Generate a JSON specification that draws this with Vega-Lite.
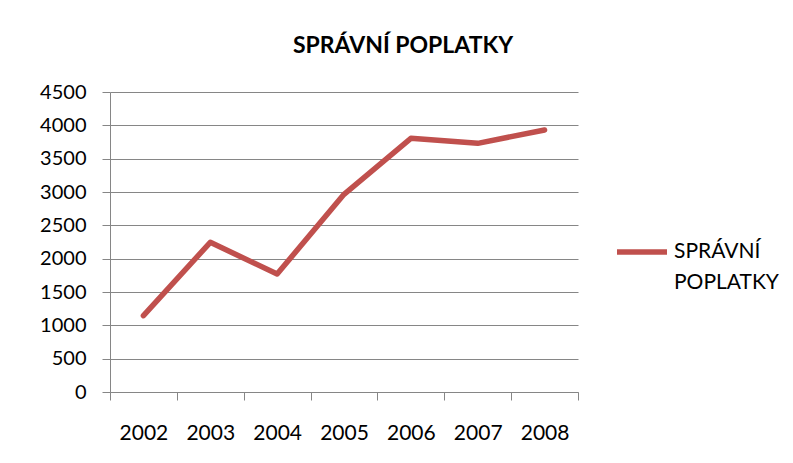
{
  "$schema": "https://vega.github.io/schema/vega-lite/v6.json",
  "autosize": {"type": "none"},
  "width": 468,
  "height": 300,
  "padding": {"left": 110, "top": 92, "right": 215, "bottom": 71},
  "background": "white",
  "title": {
    "text": "SPRÁVNÍ POPLATKY",
    "font": "Lato",
    "fontSize": 23,
    "fontWeight": "bold",
    "color": "#000000",
    "anchor": "middle",
    "dx": 59,
    "offset": 24
  },
  "data": {
    "values": [
      {"rok": "2002", "hodnota": 1145, "serie": "SPRÁVNÍ POPLATKY"},
      {"rok": "2003", "hodnota": 2245, "serie": "SPRÁVNÍ POPLATKY"},
      {"rok": "2004", "hodnota": 1770, "serie": "SPRÁVNÍ POPLATKY"},
      {"rok": "2005", "hodnota": 2965, "serie": "SPRÁVNÍ POPLATKY"},
      {"rok": "2006", "hodnota": 3805, "serie": "SPRÁVNÍ POPLATKY"},
      {"rok": "2007", "hodnota": 3730, "serie": "SPRÁVNÍ POPLATKY"},
      {"rok": "2008", "hodnota": 3930, "serie": "SPRÁVNÍ POPLATKY"}
    ]
  },
  "mark": {"type": "line", "strokeWidth": 5.5, "strokeCap": "round", "strokeJoin": "round"},
  "encoding": {
    "x": {
      "field": "rok",
      "type": "ordinal",
      "bandPosition": 0.5,
      "scale": {"type": "band", "paddingInner": 0, "paddingOuter": 0},
      "axis": {
        "title": null,
        "labelAngle": 0,
        "tickBand": "extent",
        "tickSize": 8,
        "tickColor": "#868686",
        "domainColor": "#868686",
        "labelPadding": 22,
        "labelFont": "Lato",
        "labelFontSize": 21,
        "labelColor": "#000000",
        "grid": false
      }
    },
    "y": {
      "field": "hodnota",
      "type": "quantitative",
      "scale": {"domain": [0, 4500], "nice": false},
      "axis": {
        "title": null,
        "values": [0, 500, 1000, 1500, 2000, 2500, 3000, 3500, 4000, 4500],
        "format": "d",
        "tickSize": 8,
        "tickColor": "#868686",
        "domainColor": "#868686",
        "gridColor": "#868686",
        "gridOpacity": 1,
        "labelPadding": 16,
        "labelFont": "Lato",
        "labelFontSize": 20,
        "labelColor": "#000000"
      }
    },
    "color": {
      "field": "serie",
      "type": "nominal",
      "scale": {"range": ["#C0504D"]},
      "legend": {
        "title": null,
        "orient": "none",
        "legendX": 504,
        "legendY": 132,
        "symbolType": "stroke",
        "symbolStrokeWidth": 5.5,
        "symbolSize": 2500,
        "labelFont": "Lato",
        "labelFontSize": 21,
        "labelColor": "#000000",
        "labelExpr": "split(datum.label, ' ')",
        "labelBaseline": "middle",
        "labelOffset": 4,
        "encode": {"labels": {"update": {"lineHeight": {"value": 31}}}}
      }
    }
  },
  "config": {"view": {"stroke": null}, "axis": {"domainWidth": 1, "gridWidth": 1}}
}
